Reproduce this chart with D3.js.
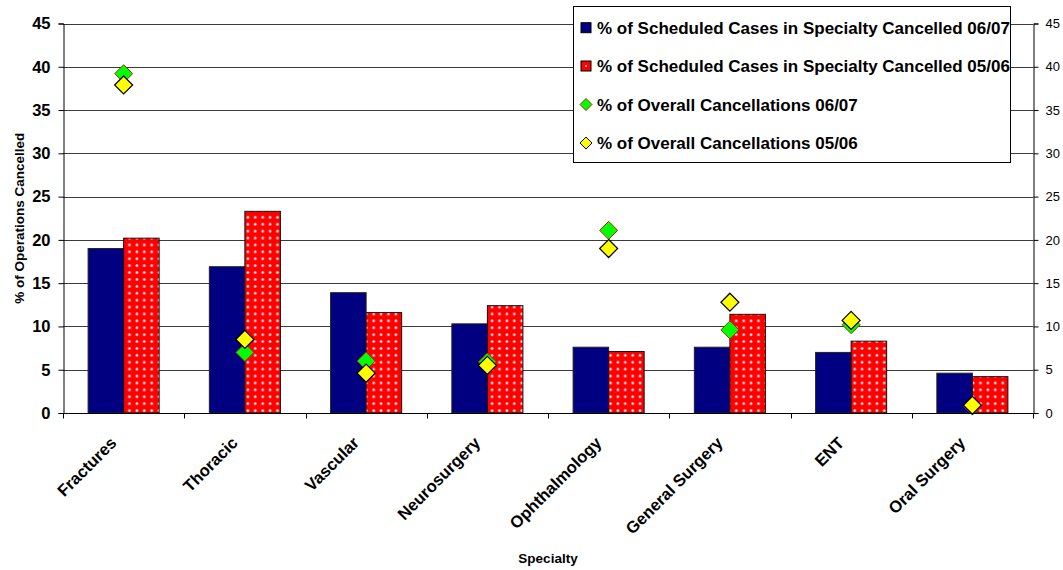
<!DOCTYPE html>
<html>
<head>
<meta charset="utf-8">
<script src="https://cdn.jsdelivr.net/npm/d3@7"></script>
<style>
  html, body { margin: 0; padding: 0; background: #fff; }
  svg { display: block; font-family: "Liberation Sans", Arial, sans-serif; }
</style>
</head>
<body>
<svg id="chart" width="1063" height="570"></svg>
<script>
// Specialties along the x axis
const categories = ["Fractures", "Thoracic", "Vascular", "Neurosurgery",
                    "Ophthalmology", "General Surgery", "ENT", "Oral Surgery"];
// % of scheduled cases in the specialty that were cancelled
const scheduled0607 = [19.0, 16.9, 13.9, 10.3, 7.6, 7.6, 7.0, 4.6];
const scheduled0506 = [20.2, 23.3, 11.6, 12.4, 7.1, 11.4, 8.3, 4.2];
// Specialty share of all cancellations
const overall0607 = [39.2, 7.0, 6.0, 5.9, 21.1, 9.6, 10.2, 0.8];
const overall0506 = [37.9, 8.5, 4.6, 5.5, 19.0, 12.8, 10.7, 0.9];
// Axis ticks
const yTicks = [0, 5, 10, 15, 20, 25, 30, 35, 40, 45];

const legendLabels = [
  "% of Scheduled Cases in Specialty Cancelled 06/07",
  "% of Scheduled Cases in Specialty Cancelled 05/06",
  "% of Overall Cancellations 06/07",
  "% of Overall Cancellations 05/06"
];

const svg = d3.select("#chart");
const plotLeft = 63, plotRight = 1033, plotTop = 23.5, plotBottom = 413;

const x = d3.scaleBand().domain(categories).range([plotLeft, plotRight]).paddingInner(0).paddingOuter(0);
const y = d3.scaleLinear().domain([0, 45]).range([plotBottom, plotTop]);
const crisp = v => Math.round(v) + 0.5;

// dotted fill for the 05/06 bars
const defs = svg.append("defs");
const pat = defs.append("pattern").attr("id", "dots")
  .attr("patternUnits", "userSpaceOnUse").attr("width", 7.4).attr("height", 6.9);
pat.append("rect").attr("width", 7.4).attr("height", 6.9).attr("fill", "#ff0000");
pat.append("circle").attr("cx", 3.7).attr("cy", 3.4).attr("r", 1.5).attr("fill", "#ff9a9a");
pat.append("circle").attr("cx", 3.7).attr("cy", 3.4).attr("r", 0.9).attr("fill", "#ffffff");

// gridlines
svg.append("g").selectAll("line").data(yTicks.filter(d => d > 0)).join("line")
  .attr("x1", plotLeft).attr("x2", plotRight)
  .attr("y1", d => crisp(y(d))).attr("y2", d => crisp(y(d)))
  .attr("stroke", "#3a3a3a").attr("stroke-width", 1);

// bars
const bw = x.bandwidth() * 0.293;
const cx = c => x(c) + x.bandwidth() / 2;
svg.append("g").selectAll("rect").data(categories).join("rect")
  .attr("x", d => cx(d) - bw).attr("width", bw)
  .attr("y", (d, i) => y(scheduled0607[i]))
  .attr("height", (d, i) => plotBottom - y(scheduled0607[i]))
  .attr("fill", "#000080").attr("stroke", "#222").attr("stroke-width", 1);
svg.append("g").selectAll("rect").data(categories).join("rect")
  .attr("x", d => cx(d)).attr("width", bw)
  .attr("y", (d, i) => y(scheduled0506[i]))
  .attr("height", (d, i) => plotBottom - y(scheduled0506[i]))
  .attr("fill", "url(#dots)").attr("stroke", "#111").attr("stroke-width", 1);

// diamond markers
const diamond = (r) => `M0,${-r}L${r},0L0,${r}L${-r},0Z`;
svg.append("g").selectAll("path").data(categories).join("path")
  .attr("transform", (d, i) => `translate(${cx(d)},${y(overall0607[i])})`)
  .attr("d", diamond(9))
  .attr("fill", "#00ff00").attr("stroke", "#993300").attr("stroke-width", 1);
svg.append("g").selectAll("path").data(categories).join("path")
  .attr("transform", (d, i) => `translate(${cx(d)},${y(overall0506[i])})`)
  .attr("d", diamond(9))
  .attr("fill", "#ffff00").attr("stroke", "#000").attr("stroke-width", 1.2);

// left axis
const yAxisL = d3.axisLeft(y).tickValues(yTicks).tickSize(5).tickPadding(8);
const gL = svg.append("g").attr("transform", `translate(${crisp(plotLeft)},0)`).call(yAxisL);
gL.select(".domain").attr("stroke", "#000");
gL.selectAll(".tick line").attr("stroke", "#000");
gL.selectAll(".tick text").attr("font-size", 16.5).attr("font-weight", "bold").attr("fill", "#000")
  .attr("font-family", "Liberation Sans, Arial, sans-serif");

// right axis
const yAxisR = d3.axisRight(y).tickValues(yTicks).tickSize(5).tickPadding(7);
const gR = svg.append("g").attr("transform", `translate(${crisp(plotRight)},0)`).call(yAxisR);
gR.select(".domain").attr("stroke", "#000");
gR.selectAll(".tick line").attr("stroke", "#000");
gR.selectAll(".tick text").attr("font-size", 13).attr("fill", "#000")
  .attr("font-family", "Liberation Sans, Arial, sans-serif");

// bottom axis: ticks at category boundaries
svg.append("line").attr("x1", plotLeft).attr("x2", plotRight + 0.5)
  .attr("y1", crisp(plotBottom)).attr("y2", crisp(plotBottom)).attr("stroke", "#000");
const bounds = categories.map(c => x(c)).concat([plotRight]);
svg.append("g").selectAll("line").data(bounds).join("line")
  .attr("x1", d => crisp(d)).attr("x2", d => crisp(d))
  .attr("y1", crisp(plotBottom)).attr("y2", crisp(plotBottom) + 5).attr("stroke", "#000");

// category labels
svg.append("g").selectAll("text").data(categories).join("text")
  .attr("transform", d => `translate(${cx(d) - 6},${plotBottom + 31}) rotate(-45)`)
  .attr("text-anchor", "end")
  .attr("font-size", 16.6).attr("font-weight", "bold").attr("fill", "#000")
  .text(d => d);

// axis titles
svg.append("text").attr("transform", `translate(24,${(plotTop + plotBottom) / 2}) rotate(-90)`)
  .attr("text-anchor", "middle").attr("font-size", 13.5).attr("font-weight", "bold")
  .text("% of Operations Cancelled");
svg.append("text").attr("x", 548).attr("y", 563)
  .attr("text-anchor", "middle").attr("font-size", 13.5).attr("font-weight", "bold")
  .text("Specialty");

// legend
const lg = svg.append("g");
lg.append("rect").attr("x", 573.5).attr("y", 6.5).attr("width", 437).attr("height", 156)
  .attr("fill", "#fff").attr("stroke", "#000").attr("stroke-width", 1);
const rowY = [27.7, 66, 104.5, 143];
const mx = 586;
lg.append("rect").attr("x", mx - 5).attr("y", rowY[0] - 5).attr("width", 10).attr("height", 10)
  .attr("fill", "#000080").attr("stroke", "#000");
lg.append("rect").attr("x", mx - 5).attr("y", rowY[1] - 5).attr("width", 10).attr("height", 10)
  .attr("fill", "#ff0000").attr("stroke", "#000");
lg.append("circle").attr("cx", mx).attr("cy", rowY[1]).attr("r", 0.9).attr("fill", "#fff");
lg.append("path").attr("transform", `translate(${mx},${rowY[2]})`).attr("d", diamond(6))
  .attr("fill", "#00ff00").attr("stroke", "#993300");
lg.append("path").attr("transform", `translate(${mx},${rowY[3]})`).attr("d", diamond(6))
  .attr("fill", "#ffff00").attr("stroke", "#000");
lg.selectAll("text.lab").data(legendLabels).join("text").attr("class", "lab")
  .attr("x", 597).attr("y", (d, i) => rowY[i]).attr("dy", "0.36em")
  .attr("font-size", 17).attr("font-weight", "bold").attr("fill", "#000")
  .text(d => d);
</script>
</body>
</html>
